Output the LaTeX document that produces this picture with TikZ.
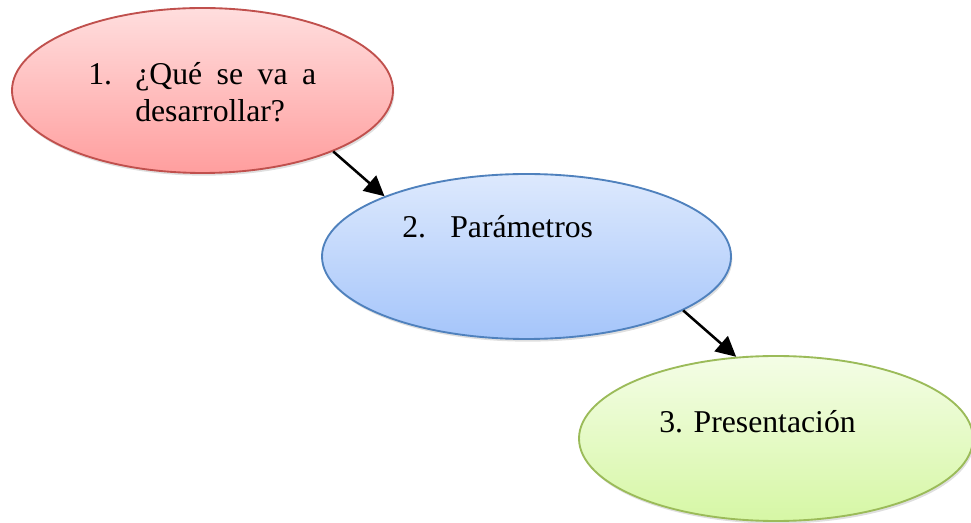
\documentclass[tikz,border=0pt]{standalone}
\usepackage{fontspec}
\setmainfont{Liberation Serif}
\usetikzlibrary{shapes.geometric,arrows.meta,shadows}

\begin{document}
\begin{tikzpicture}[x=0.75pt,y=-0.75pt,
    paso/.style={ellipse, inner sep=0pt, minimum width=#1, minimum height=123.75pt,
      line width=1.4pt, drop shadow={shadow xshift=1pt, shadow yshift=-2pt, opacity=0.25}},
    texto/.style={anchor=base west, inner sep=0pt, font=\fontsize{23.8}{28}\selectfont},
    flecha/.style={line width=1.9pt, -{Triangle[length=15pt,width=15pt]}}]
    \definecolor{rojoborde}{HTML}{C0504D}
    \definecolor{azulborde}{HTML}{4F81BD}
    \definecolor{verdeborde}{HTML}{9BBB59}
    \useasboundingbox (0,0) rectangle (971,523);

    % Paso 1
    \node[paso=285.75pt, draw=rojoborde, top color=red!13, bottom color=red!38!white] (q1) at (202.5,90.5) {};
    \node[texto] (t1a) at (88,85) {1.};
    \node[texto] (t1b) at (135,85) {\makebox[135.75pt][s]{¿Qué se va a}};
    \node[texto] (t1c) at (135,122) {desarrollar?};

    % Paso 2
    \node[paso=306.75pt, draw=azulborde, top color={rgb,255:red,221;green,233;blue,253}, bottom color={rgb,255:red,165;green,197;blue,250}] (q2) at (526.5,256.5) {};
    \node[texto] (t2a) at (402,238) {2.};
    \node[texto] (t2b) at (450,238) {Parámetros};

    % Paso 3
    \node[paso=295.5pt, draw=verdeborde, top color={rgb,255:red,244;green,253;blue,230}, bottom color={rgb,255:red,214;green,247;blue,165}] (q3) at (776,438.5) {};
    \node[texto] (t3) at (659,433) {3. Presentación};

    % flechas
    \draw[flecha] (q1.-25) -- (q2.157);
    \draw[flecha] (q2.-19) -- (q3.116);
\end{tikzpicture}
\end{document}
